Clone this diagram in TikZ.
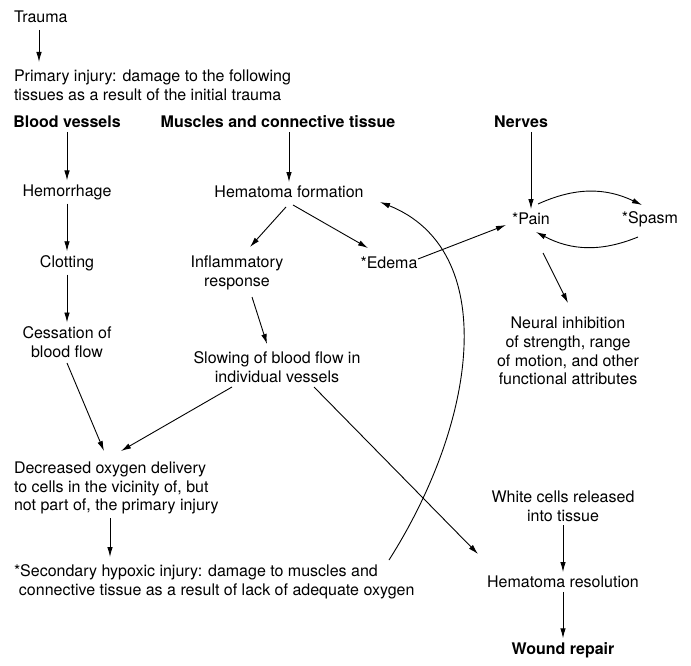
\documentclass[tikz,border=0pt]{standalone}
\usepackage{fontspec}
\setmainfont{TeX Gyre Heros}
\usetikzlibrary{arrows.meta,calc}
\tikzset{
every picture/.style={line width=0.9pt, >={Latex[length=10pt,width=5.5pt]}},
%%%%%%%%%%  Node styles
box/.style={inner sep=2pt, outer sep=2pt, align=center,
            font=\fontsize{16}{18.8}\selectfont},
leftbox/.style={box, align=left, anchor=west},
head/.style={box, font=\fontsize{16}{18.8}\selectfont\bfseries},
%%%% arrows
flow/.style={->},
}

\begin{document}
\begin{tikzpicture}[x=1pt,y=-1pt]
\useasboundingbox (0,0) rectangle (691,666);
%%top
\node[leftbox] (trauma) at (10,17) {Trauma};
\node[leftbox] (primary) at (10,85) {Primary injury: damage to the following\\tissues as a result of the initial trauma};
\draw[flow] ($(trauma.west)+(29,13)$) -- ($(trauma.west)+(29,45)$);
%%headers
\node[head] (bv) at (67,122) {Blood vessels};
\node[head] (mct) at (278,122) {Muscles and connective tissue};
\node[head] (nerves) at (521,122) {Nerves};
%%blood vessels column
\node[box] (hemo) at (67,192) {Hemorrhage};
\node[box] (clot) at (67,263) {Clotting};
\node[box] (cess) at (67,342) {Cessation of\\blood flow};
\draw[flow] (bv) -- (hemo);
\draw[flow] (hemo) -- (clot);
\draw[flow] (clot) -- (cess);
%%muscles column
\node[box] (hemf) at (289,192) {Hematoma formation};
\node[box] (infl) at (237,273) {Inflammatory\\response};
\node[box] (edema) at (389,263) {*Edema};
\node[box] (slow) at (277,367) {Slowing of blood flow in\\individual vessels};
\draw[flow] (hemf.north |- mct.south) -- (hemf);
\draw[flow] ($(hemf)+(-3,15)$) -- ($(infl)+(13,-26)$);
\draw[flow] ($(hemf)+(4,13)$) -- ($(edema)+(-21,-15)$);
\draw[flow] ($(infl)+(15,24)$) -- ($(slow)+(-10,-23)$);
%%nerves column
\node[box] (pain) at (531,219) {*Pain};
\node[box] (spasm) at (650,219) {*Spasm};
\node[box] (neural) at (568,351) {Neural inhibition\\of strength, range\\of motion, and other\\functional attributes};
\draw[flow] (pain.north |- nerves.south) -- (pain);
\draw[flow] ($(edema)+(29,-4)$) -- ($(pain)+(-25,6)$);
\draw[flow] ($(pain)+(7,-15)$) to[bend left=25] ($(spasm)+(-8,-14)$);
\draw[flow] ($(spasm)+(-12,18)$) to[bend left=25] ($(pain)+(5,13)$);
\draw[flow] ($(pain)+(12,34)$) -- ($(neural)+(0,-48)$);
%%lower left
\node[leftbox] (dec) at (10,488) {Decreased oxygen delivery\\to cells in the vicinity of, but\\not part of, the primary injury};
\node[leftbox] (sec) at (10,582) {*Secondary hypoxic injury: damage to muscles and\\\hspace*{5pt}connective tissue as a result of lack of adequate oxygen};
\draw[flow] ($(cess)+(0,21)$) -- ($(dec.west)+(94,-37)$);
\draw[flow] ($(slow)+(-45,20)$) -- ($(dec.west)+(111,-37)$);
\draw[flow] ($(dec.west)+(100,30)$) -- ($(sec.west)+(100,-25)$);
%%lower right
\node[box] (white) at (563,506) {White cells released\\into tissue};
\node[box] (hemr) at (563,582) {Hematoma resolution};
\node[head] (wound) at (563,650) {Wound repair};
\draw[flow] ($(slow)+(37,20)$) -- ($(hemr)+(-85,-28)$);
\draw[flow] (white) -- (hemr);
\draw[flow] (hemr) -- (wound);
%%feedback loop
\draw[flow] ($(sec.west)+(379,-22)$)
	.. controls (478,420) and (500,250) .. ($(hemf)+(91,10)$);
\end{tikzpicture}
\end{document}
